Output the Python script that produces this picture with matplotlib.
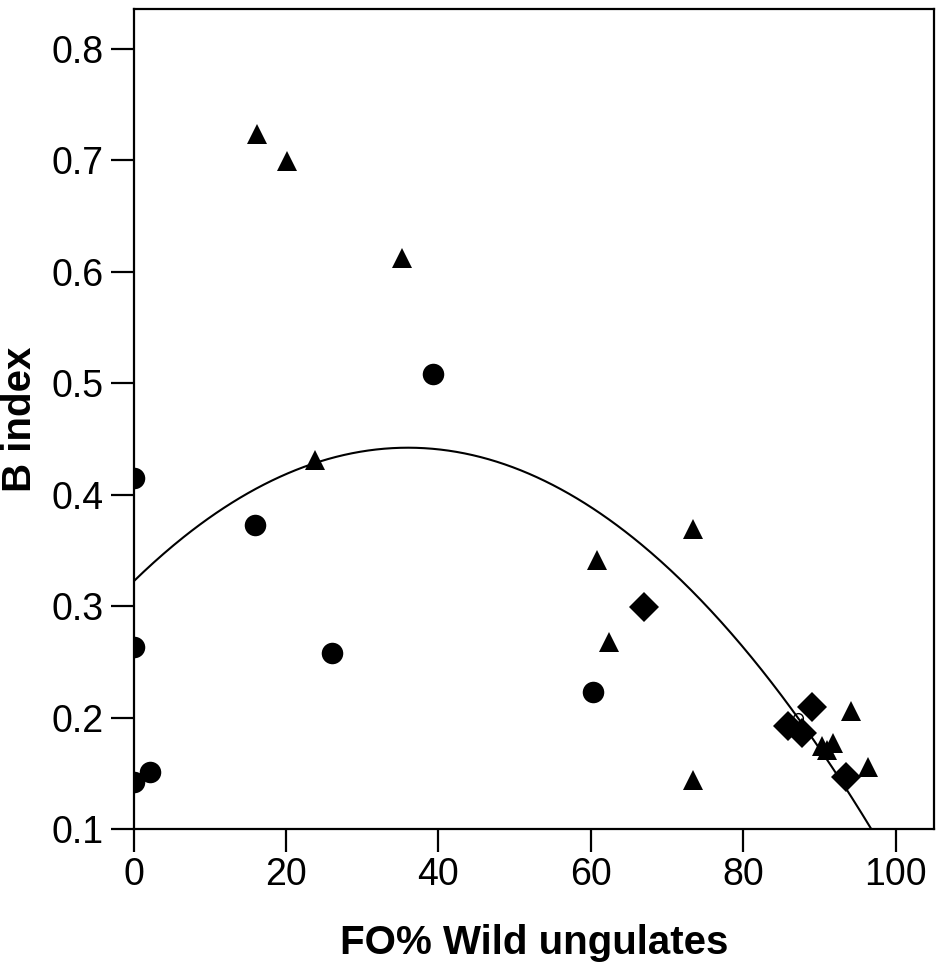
import matplotlib
matplotlib.use("Agg")
import matplotlib.pyplot as plt
import numpy as np

plt.rcParams['font.family'] = ['Liberation Sans', 'DejaVu Sans']

# Data
circle_x = [0.0, 0.0, 0.0, 2.1, 15.9, 26.0, 39.3, 60.3]
circle_y = [0.415, 0.263, 0.142, 0.151, 0.373, 0.258, 0.508, 0.223]

triangle_x = [16.2, 20.1, 35.2, 23.8, 60.8, 62.4, 73.4, 73.4, 94.1, 96.3, 90.3, 91.8, 91.0]
triangle_y = [0.723, 0.699, 0.612, 0.431, 0.341, 0.268, 0.369, 0.144, 0.206, 0.156, 0.174, 0.177, 0.171]

diamond_x = [66.9, 89.0, 85.9, 87.7, 93.4]
diamond_y = [0.299, 0.209, 0.192, 0.186, 0.147]

open_x = [87.2]
open_y = [0.200]

# Quadratic fit coefficients (y = a + b x + c x^2)
fit_a = 0.322
fit_b = 0.006667
fit_c = -9.26e-5

x_ticks = [0, 20, 40, 60, 80, 100]
y_ticks = [0.1, 0.2, 0.3, 0.4, 0.5, 0.6, 0.7, 0.8]

fig = plt.figure(figsize=(9.36, 9.71), dpi=100)
ax = fig.add_axes([133.5/936, 1 - 829/971, (934 - 133.5)/936, (829 - 9)/971])

xs = np.linspace(0, 105, 400)
ax.plot(xs, fit_a + fit_b*xs + fit_c*xs**2, color='black', lw=1.5, zorder=2)

ax.plot(circle_x, circle_y, 'o', color='black', ms=15.5, mew=0, zorder=3)
ax.plot(triangle_x, triangle_y, '^', color='black', ms=14, mew=0, zorder=3)
ax.plot(diamond_x, diamond_y, 'D', color='black', ms=15.5, mew=0, zorder=3)
ax.plot(open_x, open_y, 'o', mfc='none', mec='black', ms=7, mew=1, zorder=4)

ax.set_xlim(0, 105)
ax.set_ylim(0.1, 0.8355)
ax.set_xticks(x_ticks)
ax.set_xticklabels([str(v) for v in x_ticks])
ax.set_yticks(y_ticks)
ax.set_yticklabels([f"{v:.1f}" for v in y_ticks])

for s in ax.spines.values():
    s.set_linewidth(1.6)
ax.tick_params(axis='both', direction='out', length=16.5, width=1.6, labelsize=27, pad=5, color='black')
ax.tick_params(axis='x', pad=4)

ax.set_xlabel('FO% Wild ungulates', fontsize=29, fontweight='bold', labelpad=22)
ax.set_ylabel('B index', fontsize=29, fontweight='bold', labelpad=9)

fig.savefig('out.png', dpi=100)
